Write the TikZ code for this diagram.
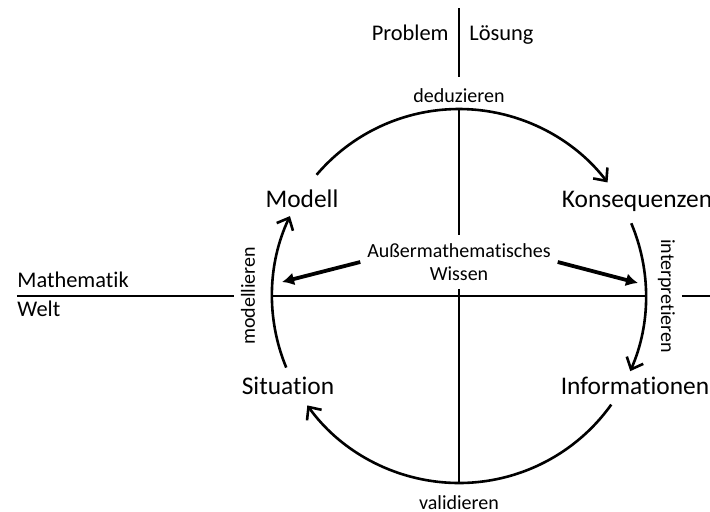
\documentclass[tikz,border=0pt]{standalone}
\usepackage{fontspec}
\setmainfont{Carlito}[Ligatures=NoCommon]
\usetikzlibrary{arrows.meta}

\begin{document}
\begin{tikzpicture}[x=0.5pt, y=0.5pt,
    achse/.style={line width=1pt},
    kreispfeil/.style={line width=1.3pt, -{Straight Barb[length=5pt,width=9pt]}},
    wissenpfeil/.style={line width=1.9pt, -{Latex[length=6pt,width=6.5pt]}},
    klein/.style={font=\fontsize{10}{11.5}\selectfont},
    mittel/.style={font=\fontsize{11.2}{13}\selectfont},
    gross/.style={font=\fontsize{12.7}{15}\selectfont}]

    \useasboundingbox (-459,-215) rectangle (251,296);

    \node[mittel, anchor=base east, inner sep=0pt] (problem) at (-10,256) {Problem};
    \node[mittel, anchor=base west, inner sep=0pt] (loesung) at (10,256) {Lösung};
    \node[klein, anchor=base] (deduzieren) at (0,194) {deduzieren};
    \node[klein, anchor=base] (validieren) at (0,-213) {validieren};

    \node[gross, anchor=base] (modell) at (-157,89) {Modell};
    \node[gross, anchor=base] (konsequenzen) at (178,89) {Konsequenzen};
    \node[gross, anchor=base] (situation) at (-171,-98) {Situation};
    \node[gross, anchor=base] (informationen) at (176,-98) {Informationen};

    \node[mittel, anchor=base west, inner sep=0pt] (mathematik) at (-442,9) {Mathematik};
    \node[mittel, anchor=base west, inner sep=0pt] (welt) at (-442,-20) {Welt};

    \node[klein, rotate=90, anchor=base] (modellieren) at (-204,0) {modellieren};
    \node[klein, rotate=-90, anchor=base] (interpretieren) at (202,0) {interpretieren};

    \node[klein, align=center, inner ysep=4pt] (wissen) at (0,34) {Außermathematisches\\Wissen};

    \coordinate (obenEnde) at (0,288);
    \coordinate (obenAnfang) at (0,219);
    \coordinate (kreisOben) at (90:187);
    \coordinate (kreisUnten) at (270:187);
    \coordinate (kreisLinks) at (180:187);
    \coordinate (kreisRechts) at (0:188);
    \coordinate (linksEnde) at (-442,0);
    \coordinate (rechtsEnde) at (251,0);
    \coordinate (zielLinks) at (-177,14);
    \coordinate (zielRechts) at (179,13);

    \draw[achse] (obenEnde) -- (obenAnfang);
    \draw[achse] (kreisOben) -- (wissen.north);
    \draw[achse] (wissen.south) -- (kreisUnten);
    \draw[achse] (linksEnde) -- (modellieren.north);
    \draw[achse] (kreisLinks) -- (kreisRechts);
    \draw[achse] (interpretieren.north) -- (rechtsEnde);

    \coordinate (deduzierenStart) at (139.6:187);
    \coordinate (interpretierenStart) at (22.9:187);
    \coordinate (validierenStart) at (-35.5:187);
    \coordinate (modellierenStart) at (202.5:187);

    \draw[kreispfeil] (deduzierenStart) arc[start angle=139.6, end angle=37.4, radius=187];
    \draw[kreispfeil] (interpretierenStart) arc[start angle=22.9, end angle=-23.7, radius=187];
    \draw[kreispfeil] (validierenStart) arc[start angle=-35.5, end angle=-144.2, radius=187];
    \draw[kreispfeil] (modellierenStart) arc[start angle=202.5, end angle=154.7, radius=187];

    \draw[wissenpfeil] (wissen.west) -- (zielLinks);
    \draw[wissenpfeil] (wissen.east) -- (zielRechts);
\end{tikzpicture}
\end{document}
